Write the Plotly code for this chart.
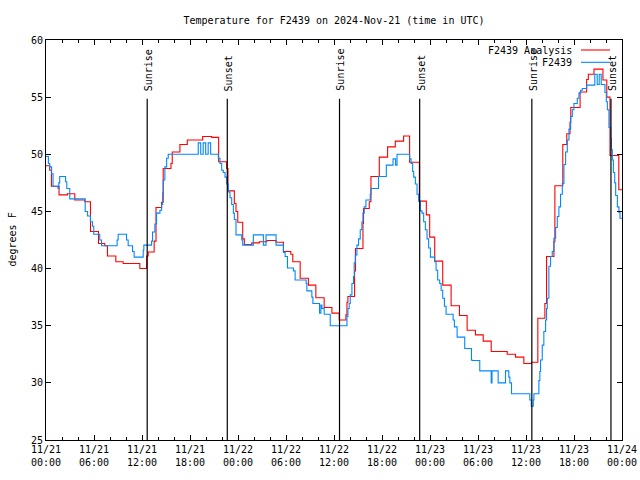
import pandas as pd
import plotly.graph_objects as go

START = "2024-11-21 00:00"
END = "2024-11-24 00:00"

# Analysis series (hours since start, deg F) - step data
red_hours = [0.0, 0.46, 0.68, 1.63, 2.68, 3.6, 4.85, 5.56, 6.56, 7.35, 7.68, 8.73, 9.64, 11.73,
             12.57, 12.77, 13.52, 13.75, 14.45, 14.65, 15.62, 15.78, 16.74, 17.66, 19.58, 20.71,
             21.58, 22.58, 22.75, 23.54, 23.75, 23.97, 24.59, 24.79, 25.72, 26.67, 27.6, 28.76,
             29.68, 30.6, 30.85, 31.77, 32.8, 33.73, 34.77, 35.74, 36.65, 37.49, 37.62, 37.74,
             38.57, 38.69, 39.62, 39.69, 40.41, 40.62, 41.66, 42.7, 43.66, 44.7, 45.45, 46.67,
             47.54, 47.96, 48.59, 49.59, 50.64, 51.68, 52.64, 53.68, 54.65, 55.65, 57.65, 58.69,
             59.73, 60.69, 61.48, 62.36, 62.57, 63.49, 63.61, 64.6, 65.1, 65.5, 65.6, 66.76,
             67.58, 67.79, 68.5, 69.62, 70.1, 70.5, 71.6, 72.0]
red_temps = [49.0, 48.6, 47.2, 46.45, 46.55, 46.0, 45.85, 43.25, 42.2, 42.0, 41.1, 40.6, 40.45, 40.0,
             41.1, 41.45, 42.4, 45.35, 45.8, 48.75, 49.2, 50.2, 50.85, 51.25, 51.55, 51.48,
             49.35, 48.75, 46.8, 45.7, 45.0, 44.05, 42.6, 42.1, 42.25, 42.35, 42.45, 42.3,
             41.5, 41.25, 40.6, 39.15, 38.55, 37.45, 36.6, 36.1, 35.5, 35.95, 37.05, 37.55,
             39.8, 41.75, 43.95, 45.25, 45.85, 48.05, 49.75, 50.65, 51.15, 51.6, 49.3, 45.9,
             44.7, 42.75, 40.65, 38.55, 36.75, 35.9, 34.6, 34.2, 33.65, 32.75, 32.5, 32.25,
             31.7, 31.8, 35.65, 36.95, 41.05, 42.35, 47.25, 50.85, 51.8, 52.8, 54.1, 55.45,
             56.55, 57.0, 57.45, 56.5, 55.0, 49.9, 46.9, 46.9]

# Station observations (hours since start, deg F) - step data
blue_hours = [0.0, 0.3, 0.46, 0.7, 0.88, 1.5, 1.6, 1.71, 2.45, 2.6, 2.97, 4.9, 5.2, 5.56, 5.81,
              5.97, 6.72, 6.94, 8.89, 9.02, 10.07, 10.27, 10.82, 11.02, 12.15, 12.23, 13.2, 13.32,
              13.61, 13.82, 14.24, 14.45, 14.58, 14.65, 14.86, 15.08, 15.28,
              19.03, 19.34, 19.65, 19.96, 20.27, 20.58, 20.91,
              21.54, 21.75, 21.96, 22.16, 22.38, 22.59, 22.79, 23.0, 23.21, 23.42, 23.54, 23.75,
              24.47, 24.59, 25.92, 27.17, 27.5, 28.76, 29.68, 29.89, 30.18, 30.93, 31.14, 32.52,
              32.61, 33.23, 33.36, 34.19, 34.36, 34.49, 34.77, 35.53, 37.62, 37.74, 37.9, 38.03,
              38.24, 38.44, 38.53, 38.66, 38.87, 39.07, 39.28, 39.49, 39.62, 39.78, 39.99, 40.53,
              40.62, 41.57, 42.54, 43.38, 43.7, 43.88, 45.45, 45.63, 45.83, 45.96,
              46.17, 46.38, 46.58, 46.8, 47.0, 47.21, 47.42, 47.63, 47.83, 48.05, 48.59, 48.76,
              48.96, 49.21, 49.39, 49.59, 49.8, 50.01, 50.89, 51.05, 51.39, 52.34, 53.18, 53.27,
              54.22, 55.65, 55.75, 56.52, 57.44, 57.85, 57.98, 58.19, 60.48, 60.66, 60.91, 60.99,
              61.61, 61.73, 61.82, 62.03, 62.23, 62.45, 62.57, 62.66, 62.86, 63.07, 63.28, 63.49,
              63.7, 63.91, 64.11, 64.32, 64.54, 64.74, 64.95, 65.16, 65.37, 65.58, 65.79, 65.99,
              66.41, 66.62, 66.83, 67.04, 67.58, 68.6, 68.9, 69.15, 69.4,
              69.87, 70.04, 70.17, 70.37, 70.58, 70.66, 70.79, 70.92, 71.09, 71.21, 71.42,
              71.62, 71.75, 72.0]
blue_temps = [49.8, 49.2, 48.9, 48.3, 47.2, 47.0, 47.5, 48.05, 47.6, 47.0, 46.1, 45.0, 44.6, 44.1, 43.7,
              43.0, 42.5, 42.0, 42.5, 43.0, 42.5, 42.0, 41.5, 41.0, 41.6, 42.05, 42.4, 43.2,
              43.9, 44.85, 45.1, 45.6, 46.6, 47.75, 48.9, 49.65, 50.0,
              51.0, 50.0, 51.0, 50.0, 51.0, 50.0, 50.0,
              49.65, 49.2, 48.6, 48.4, 48.0, 47.4, 46.7, 46.2, 45.6, 44.85, 44.3, 42.95,
              42.5, 42.05, 42.95, 42.05, 42.95, 42.05, 41.4, 41.05, 40.05, 39.8, 39.0, 38.7,
              38.05, 37.5, 36.95, 36.1, 36.8, 36.5, 36.0, 35.0, 35.8, 36.5, 36.95, 37.7,
              38.7, 39.3, 40.5, 41.2, 42.05, 42.6, 43.4, 44.1, 44.85, 45.4, 46.0, 46.5,
              47.0, 48.05, 49.05, 49.6, 49.05, 50.0, 49.6, 49.2, 48.5, 48.0,
              47.4, 46.5, 45.9, 45.05, 44.85, 44.1, 43.4, 42.6, 41.8, 41.0, 40.6, 39.85,
              39.0, 38.7, 38.1, 37.4, 36.7, 36.0, 35.5, 34.9, 34.0, 33.0, 32.0, 31.95,
              31.05, 30.0, 31.05, 30.0, 31.05, 30.5, 30.0, 29.05, 28.5, 27.95, 28.5, 29.05,
              30.2, 31.0, 32.0, 33.3, 34.5, 35.5, 36.5, 37.4, 40.2, 41.05, 41.5, 42.65,
              43.6, 44.55, 45.4, 46.5, 47.45, 49.1, 50.2, 51.25, 52.2, 53.3, 53.9, 54.45,
              54.9, 55.35, 55.6, 55.75, 56.05, 57.0, 56.1, 57.0, 56.1,
              55.4, 54.6, 53.9, 52.35, 51.4, 50.4, 49.5, 48.4, 47.5, 46.4, 45.4,
              44.9, 44.4, 44.4]

sun_event_hours = [12.65, 22.66, 36.69, 46.71, 60.73, 70.62]
sun_event_labels = ["Sunrise", "Sunset", "Sunrise", "Sunset", "Sunrise", "Sunset"]

series_names = ["F2439 Analysis", "F2439"]
series_colors = ["#ff0000", "#0088ff"]

t0 = pd.Timestamp(START)
def to_time(hours):
    return t0 + pd.to_timedelta(pd.Series(hours), unit="h")

FONT = "DejaVu Sans Mono"

W, H = 640, 480
PL, PT, PR, PB = 46, 40, 622, 440   # plot area in page pixels (body margin removed below)

fig = go.Figure()
fig.add_trace(go.Scatter(x=to_time(red_hours), y=red_temps, mode="lines", line_shape="hv",
                         line=dict(color=series_colors[0], width=1.1), name=series_names[0],
                         showlegend=False))
fig.add_trace(go.Scatter(x=to_time(blue_hours), y=blue_temps, mode="lines", line_shape="hv",
                         line=dict(color=series_colors[1], width=1.1), name=series_names[1],
                         showlegend=False))

ev_times = to_time(sun_event_hours)
for t, lab in zip(ev_times, sun_event_labels):
    fig.add_shape(type="line", xref="x", yref="y", x0=t, x1=t, y0=25, y1=54.85,
                  line=dict(color="black", width=1.2))
    fig.add_annotation(x=t, y=55.35, xref="x", yref="y", text=lab, textangle=-90,
                       showarrow=False, xanchor="center", yanchor="bottom", xshift=1,
                       font=dict(family=FONT, size=10, color="black"))

pw, ph = PR - PL, PB - PT
def px(xpix):
    return (xpix - PL) / pw
def py(ypix):
    return (PB - ypix) / ph

# legend (gnuplot style: text then line sample)
for i, (nm, col) in enumerate(zip(series_names, series_colors)):
    yy = py(50 + i * 12.3)
    fig.add_annotation(x=px(574), y=yy, xref="paper", yref="paper", text=nm, showarrow=False,
                       xanchor="right", yanchor="middle",
                       font=dict(family=FONT, size=10, color="black"))
    fig.add_shape(type="line", xref="paper", yref="paper", x0=px(581), x1=px(610), y0=yy, y1=yy,
                  line=dict(color=col, width=1.1))

fig.add_annotation(x=px(11.5), y=0.5, xref="paper", yref="paper", text="degrees F",
                   textangle=-90, showarrow=False, xanchor="center", yanchor="middle",
                   font=dict(family=FONT, size=10, color="black"))

fig.update_layout(
    width=W, height=H,
    margin=dict(l=PL, r=W - PR, t=PT, b=H - PB, pad=0, autoexpand=False),
    paper_bgcolor="white", plot_bgcolor="white",
    font=dict(family=FONT, size=10, color="black"),
    title=dict(text="Temperature for F2439 on 2024-Nov-21 (time in UTC)", x=0.5, xref="paper",
               xanchor="center", y=1 - 20.5 / H, yanchor="middle",
               font=dict(family=FONT, size=10, color="black")),
    showlegend=False,
)
fig.update_xaxes(type="date", range=[START, END], dtick=6 * 3600 * 1000, tick0=START,
                 tickformat="%m/%d<br>%H:%M", ticks="inside", ticklen=5, tickcolor="black",
                 showline=True, linecolor="black", linewidth=1, mirror="allticks",
                 showgrid=False, zeroline=False, automargin=False,
                 ticklabeloverflow="allow",
                 minor=dict(dtick=2 * 3600 * 1000, ticks="inside", ticklen=3,
                            tickcolor="black", showgrid=False),
                 tickfont=dict(family=FONT, size=10, color="black"))
fig.update_yaxes(range=[25, 60], dtick=5, tick0=25, ticks="inside", ticklen=5,
                 tickcolor="black", showline=True, linecolor="black", linewidth=1,
                 mirror="allticks", showgrid=False, zeroline=False, automargin=False,
                 tickfont=dict(family=FONT, size=10, color="black"))

fig.write_html("out.html", config={"displayModeBar": False},
               post_script="document.body.style.margin='0';document.body.style.overflow='hidden';")
